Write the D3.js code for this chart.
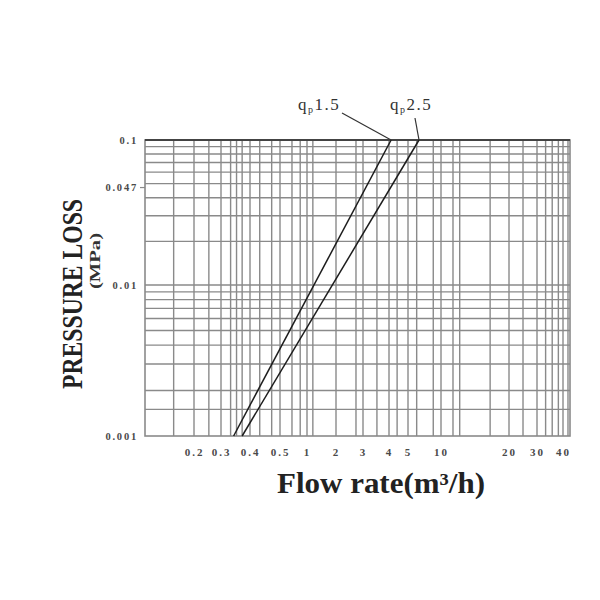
<!DOCTYPE html>
<html><head><meta charset="utf-8">
<script src="https://cdn.jsdelivr.net/npm/d3@7"></script>
<style>body{margin:0;background:#fff}</style>
</head><body><div id="chart"></div>
<script>
// ---- data ----
const xTickValues = [0.2, 0.3, 0.4, 0.5, 1, 2, 3, 4, 5, 10, 20, 30, 40];
const xTickLabels = ["0.2", "0.3", "0.4", "0.5", "1", "2", "3", "4", "5", "10", "20", "30", "40"];
const xGridMinor = [0.15, 0.25, 0.33, 0.35, 0.37, 0.43, 0.47, 0.68, 0.84, 1.15, 2.7, 3.5, 4.4, 6, 8.5, 11.3, 12.1, 16.5, 24.5, 33, 35.5, 38, 43.5];
const xDomainEnds = [0.1, 45];
const yTickValues = [0.1, 0.047, 0.01, 0.001];
const yTickLabels = ["0.1", "0.047", "0.01", "0.001"];
const yGridValues = [0.0015, 0.002, 0.003, 0.004, 0.005, 0.006, 0.007, 0.008, 0.009, 0.01,
                     0.02, 0.03, 0.04, 0.05, 0.06, 0.07, 0.08, 0.09];
const seriesNames = ["1.5", "2.5"];
const qp15Flow = [0.34, 4.1];
const qp15Loss = [0.001, 0.1];
const qp25Flow = [0.37, 6.3];
const qp25Loss = [0.001, 0.1];

// ---- layout ----
const W = 600, H = 600;
const mL = 145, mR = 570, mT = 140, mB = 436;
const svg = d3.select("#chart").append("svg").attr("width", W).attr("height", H);

// x axis of the original chart is irregular: piecewise log scale anchored at its labels
const xDomain = [xDomainEnds[0], ...xTickValues, xDomainEnds[1]];
const xRange = [mL, 194, 221, 250, 280, 307, 336, 363, 389, 408, 441, 509, 537, 563, mR];
const x = d3.scaleLog().domain(xDomain).range(xRange);
const y = d3.scaleLog().domain([0.001, 0.01, 0.1]).range([mB, 285, mT]);

const gridColor = "#8a8a8a";
const g = svg.append("g");

// vertical grid
const vGrid = [...xTickValues, ...xGridMinor];
g.selectAll("line.vg").data(vGrid).join("line")
  .attr("x1", d => x(d)).attr("x2", d => x(d))
  .attr("y1", mT).attr("y2", mB)
  .attr("stroke", gridColor).attr("stroke-width", 1.4);

// horizontal grid
g.selectAll("line.hg").data(yGridValues).join("line")
  .attr("x1", mL).attr("x2", mR)
  .attr("y1", d => y(d)).attr("y2", d => y(d))
  .attr("stroke", gridColor).attr("stroke-width", 1.4);

// frame
g.append("rect").attr("x", mL).attr("y", mT)
  .attr("width", mR - mL).attr("height", mB - mT)
  .attr("fill", "none").attr("stroke", gridColor).attr("stroke-width", 1.6);
g.append("line").attr("x1", mL).attr("x2", mR)
  .attr("y1", y(0.1)).attr("y2", y(0.1))
  .attr("stroke", "#444").attr("stroke-width", 2);

// x tick labels
const xAxis = d3.axisBottom(x).tickValues(xTickValues)
  .tickFormat((d, i) => xTickLabels[i]).tickSize(0).tickPadding(0);
const xa = svg.append("g").attr("transform", `translate(0,${mB + 16})`).call(xAxis);
xa.select(".domain").remove();
xa.selectAll("text")
  .attr("font-family", "'Liberation Serif', serif").attr("font-weight", "bold")
  .attr("font-size", 11).attr("fill", "#4a4a4a").attr("letter-spacing", 2)
  .attr("dy", "0.35em").attr("y", 0);

// y tick labels
const yAxis = d3.axisLeft(y).tickValues(yTickValues)
  .tickFormat((d, i) => yTickLabels[i]).tickSize(0).tickPadding(7);
const ya = svg.append("g").attr("transform", `translate(${mL},0)`).call(yAxis);
ya.select(".domain").remove();
ya.selectAll("text")
  .attr("font-family", "'Liberation Serif', serif").attr("font-weight", "bold")
  .attr("font-size", 10.5).attr("fill", "#4a4a4a").attr("letter-spacing", 1.8);
// small tick mark at 0.047
svg.append("line").attr("x1", mL - 5).attr("x2", mL)
  .attr("y1", y(0.047)).attr("y2", y(0.047))
  .attr("stroke", gridColor).attr("stroke-width", 1.2);

// series lines
const lineGen = d3.line().x(d => x(d[0])).y(d => y(d[1]));
const series = [
  { name: seriesNames[0], pts: d3.zip(qp15Flow, qp15Loss) },
  { name: seriesNames[1], pts: d3.zip(qp25Flow, qp25Loss) }
];
svg.selectAll("path.s").data(series).join("path")
  .attr("d", d => lineGen(d.pts))
  .attr("fill", "none").attr("stroke", "#1c1c1c").attr("stroke-width", 1.5);

// series labels with leader lines
const labelPos = [{ tx: 298, ty: 110, lx: 342, ly: 113 }, { tx: 390, ty: 110, lx: 415, ly: 118 }];
series.forEach((s, i) => {
  const p = labelPos[i];
  const t = svg.append("text").attr("x", p.tx).attr("y", p.ty)
    .attr("font-family", "'Liberation Serif', serif").attr("font-size", 17)
    .attr("fill", "#333").attr("letter-spacing", 1.5);
  t.append("tspan").text("q");
  t.append("tspan").attr("font-size", 10).attr("dy", 3).text("p");
  t.append("tspan").attr("dy", -3).text(s.name);
  const end = s.pts[s.pts.length - 1];
  svg.append("line").attr("x1", p.lx).attr("y1", p.ly)
    .attr("x2", x(end[0])).attr("y2", y(end[1]))
    .attr("stroke", "#333").attr("stroke-width", 1.2);
});

// axis titles
svg.append("text")
  .attr("transform", "translate(82,294) rotate(-90)")
  .attr("text-anchor", "middle")
  .attr("font-family", "'Liberation Serif', serif").attr("font-weight", "bold")
  .attr("font-size", 30).attr("fill", "#222")
  .attr("textLength", 190).attr("lengthAdjust", "spacingAndGlyphs")
  .text("PRESSURE LOSS");
svg.append("text")
  .attr("transform", "translate(100,261) rotate(-90)")
  .attr("text-anchor", "middle")
  .attr("font-family", "'Liberation Serif', serif").attr("font-weight", "bold")
  .attr("font-size", 15).attr("fill", "#333")
  .attr("textLength", 56).attr("lengthAdjust", "spacingAndGlyphs")
  .text("(MPa)");
svg.append("text")
  .attr("x", 277).attr("y", 493)
  .attr("font-family", "'Liberation Serif', serif").attr("font-weight", "bold")
  .attr("font-size", 29).attr("fill", "#222")
  .attr("textLength", 208).attr("lengthAdjust", "spacingAndGlyphs")
  .text("Flow rate(m³/h)");
</script>
</body></html>
